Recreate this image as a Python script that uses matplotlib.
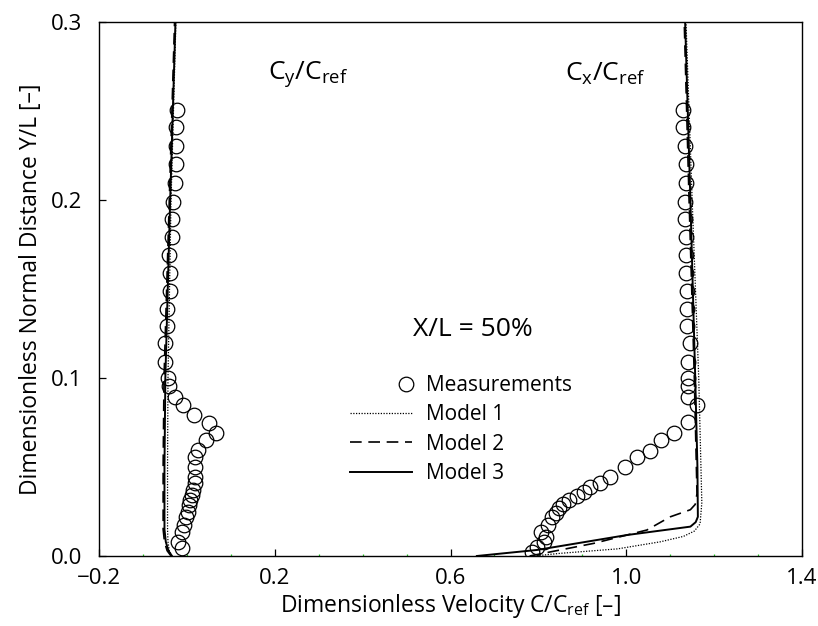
import numpy as np
import matplotlib
matplotlib.use("Agg")
import matplotlib.pyplot as plt
from matplotlib.legend_handler import HandlerLine2D
from matplotlib.lines import Line2D

plt.rcParams['font.family'] = ['Open Sans', 'DejaVu Sans']
plt.rcParams['mathtext.default'] = 'regular'

# ---- measured profiles -------------------------------------------------
cy_meas_y = [0.2506, 0.241, 0.2305, 0.220, 0.2097, 0.199, 0.1893, 0.1794, 0.169,
             0.159, 0.149, 0.139, 0.129, 0.1196, 0.109, 0.0998, 0.0955, 0.0895,
             0.0848, 0.0792, 0.0745, 0.0693, 0.0652, 0.0596, 0.0554, 0.050,
             0.0446, 0.041, 0.037, 0.0343, 0.0315, 0.0287, 0.0249, 0.0221,
             0.0174, 0.0137, 0.008, 0.0043]
cy_meas_x = [-0.023, -0.025, -0.025, -0.025, -0.028, -0.032, -0.0345, -0.0345,
             -0.0405, -0.038, -0.038, -0.046, -0.046, -0.050, -0.050, -0.044,
             -0.040, -0.027, -0.008, 0.016, 0.0506, 0.0665, 0.044, 0.026, 0.0187,
             0.0187, 0.0187, 0.0187, 0.0147, 0.011, 0.007, 0.005, 0.0033, -0.002,
             -0.0064, -0.0103, -0.0194, -0.0117]

cx_meas_y = [0.2506, 0.241, 0.2305, 0.220, 0.2097, 0.199, 0.1893, 0.1794, 0.169,
             0.159, 0.149, 0.139, 0.129, 0.1196, 0.109, 0.0998, 0.0955, 0.0895,
             0.0848, 0.0755, 0.069, 0.065, 0.0592, 0.0558, 0.0502, 0.0446,
             0.0408, 0.0386, 0.0361, 0.0339, 0.0315, 0.0292, 0.0268, 0.0244,
             0.0221, 0.0174, 0.0137, 0.0109, 0.008, 0.0053, 0.0024]
cx_meas_x = [1.130, 1.130, 1.133, 1.135, 1.135, 1.133, 1.133, 1.135, 1.135,
             1.135, 1.138, 1.138, 1.138, 1.146, 1.141, 1.141, 1.141, 1.141,
             1.162, 1.141, 1.108, 1.078, 1.053, 1.025, 0.997, 0.964, 0.941,
             0.918, 0.903, 0.887, 0.869, 0.857, 0.846, 0.839, 0.831, 0.823,
             0.805, 0.818, 0.812, 0.798, 0.785]

# ---- computed profiles: streamwise component ---------------------------
cx_m1_y = [0.0, 0.0015, 0.0040, 0.0080, 0.0110, 0.0140, 0.0180, 0.030, 0.10, 0.20, 0.30]
cx_m1_x = [0.790, 0.850, 0.980, 1.078, 1.130, 1.155, 1.168, 1.172, 1.165, 1.150, 1.136]
cx_m2_y = [0.0, 0.0071, 0.0146, 0.0220, 0.0260, 0.0290, 0.0350, 0.10, 0.20, 0.30]
cx_m2_x = [0.780, 0.926, 1.047, 1.100, 1.146, 1.157, 1.161, 1.155, 1.143, 1.132]
cx_m3_y = [0.0, 0.0034, 0.0118, 0.0165, 0.0190, 0.0220, 0.050, 0.10, 0.20, 0.30]
cx_m3_x = [0.660, 0.797, 1.002, 1.146, 1.158, 1.163, 1.162, 1.157, 1.146, 1.134]

# ---- computed profiles: normal component -------------------------------
cy_m1_y = [0.0, 0.003, 0.008, 0.015, 0.05, 0.10, 0.20, 0.30]
cy_m1_x = [-0.034, -0.040, -0.043, -0.044, -0.044, -0.043, -0.036, -0.025]
cy_m2_y = [0.0, 0.003, 0.008, 0.015, 0.05, 0.10, 0.20, 0.30]
cy_m2_x = [-0.036, -0.045, -0.051, -0.054, -0.054, -0.052, -0.040, -0.028]
cy_m3_y = [0.0, 0.003, 0.008, 0.015, 0.05, 0.10, 0.20, 0.30]
cy_m3_x = [-0.034, -0.042, -0.048, -0.051, -0.051, -0.049, -0.038, -0.026]

x_ticks = [-0.2, 0.2, 0.6, 1.0, 1.4]
y_ticks = [0.0, 0.1, 0.2, 0.3]

fig = plt.figure(figsize=(8.18, 6.26), dpi=100)
ax = fig.add_axes([99 / 818, 1 - 556 / 626, 703 / 818, 534 / 626])

mk = dict(ls='none', marker='o', ms=10.5, mfc='none', mec='black', mew=0.9)
meas, = ax.plot(cx_meas_x, cx_meas_y, **mk)
ax.plot(cy_meas_x, cy_meas_y, **mk)

l1, = ax.plot(cx_m1_x, cx_m1_y, color='black', lw=0.9, ls=(0, (1, 1.2)))
ax.plot(cy_m1_x, cy_m1_y, color='black', lw=0.9, ls=(0, (1, 1.2)))
l2, = ax.plot(cx_m2_x, cx_m2_y, color='black', lw=1.2, ls=(0, (7, 4)))
ax.plot(cy_m2_x, cy_m2_y, color='black', lw=1.2, ls=(0, (7, 4)))
l3, = ax.plot(cx_m3_x, cx_m3_y, color='black', lw=1.4, ls='-')
ax.plot(cy_m3_x, cy_m3_y, color='black', lw=1.4, ls='-')

ax.set_xlim(-0.2, 1.4)
ax.set_ylim(0.0, 0.3)
ax.set_xticks(x_ticks)
ax.set_xticklabels([f"{v:.1f}".replace('-', '\u2212') for v in x_ticks])
ax.set_yticks(y_ticks)
ax.set_yticklabels([f"{v:.1f}" for v in y_ticks])
ax.set_xticks(np.arange(-0.1, 1.4, 0.1), minor=True)
ax.tick_params(which='major', direction='in', length=5, width=0.9, labelsize=16)
ax.tick_params(axis='x', which='major', pad=9)
ax.tick_params(axis='y', which='major', pad=12)
ax.tick_params(which='minor', direction='in', length=1.5, width=0.9,
               color='#22cc22', left=False)
for s in ax.spines.values():
    s.set_linewidth(1.0)

ax.set_xlabel('Dimensionless Velocity C/C$_{ref}$ [\u2013]', fontsize=16.5, labelpad=2)
ax.set_ylabel('Dimensionless Normal Distance Y/L [\u2013]', fontsize=16.5, labelpad=6)

ax.text(0.185, 0.271, 'C$_y$/C$_{ref}$', fontsize=19, ha='left', va='center')
ax.text(1.044, 0.271, 'C$_x$/C$_{ref}$', fontsize=19, ha='right', va='center')
ax.text(0.65, 0.127, 'X/L = 50%', fontsize=19, ha='center', va='center')


class RightMarkerHandler(HandlerLine2D):
    """Single legend marker placed at the right end of the handle box."""
    def create_artists(self, legend, orig_handle, xdescent, ydescent,
                       width, height, fontsize, trans):
        x = -xdescent + width - 0.3 * fontsize
        y = (height - ydescent) / 2
        mark = Line2D([x], [y])
        self.update_prop(mark, orig_handle, legend)
        mark.set_transform(trans)
        return [mark]


ax.legend([meas, l1, l2, l3], ['Measurements', 'Model 1', 'Model 2', 'Model 3'],
          handler_map={meas: RightMarkerHandler()},
          loc='upper left', bbox_to_anchor=(0.357, 0.339), frameon=False,
          fontsize=15, handlelength=3.0, handletextpad=0.67,
          labelspacing=0.4, borderpad=0, borderaxespad=0, markerscale=0.85)

fig.savefig('out.png', dpi=100)
